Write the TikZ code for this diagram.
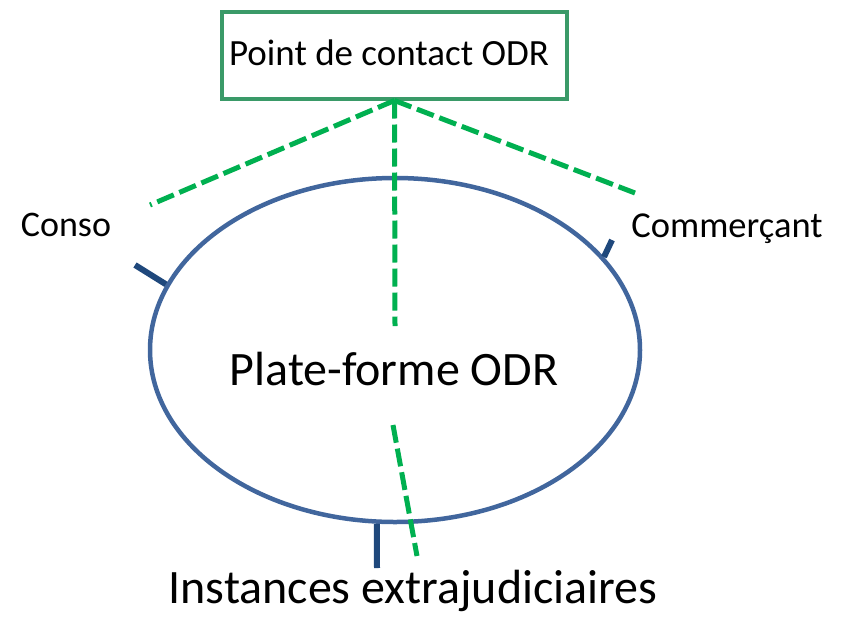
\documentclass[tikz,border=0pt]{standalone}
\usepackage{fontspec}
\setmainfont{Carlito}
\usetikzlibrary{shapes.geometric}
\definecolor{boxgreen}{HTML}{3A9A68}
\definecolor{dashgreen}{HTML}{00B050}
\definecolor{ellblue}{HTML}{41669D}
\definecolor{tickblue}{HTML}{1F487C}
\tikzset{
  lbl/.style={anchor=base, inner sep=0pt, text=black},
  gdash/.style={draw=dashgreen, line width=5pt, dash pattern=on 18pt off 6pt},
  tickline/.style={draw=tickblue, line width=6pt},
}
\begin{document}
\begin{tikzpicture}[x=1pt,y=-1pt]
\useasboundingbox (0,0) rectangle (843,616);
% box
\node[draw=boxgreen, line width=4pt, minimum width=345pt, minimum height=87pt, inner sep=0pt] (pc) at (394.5,55) {};
\node[lbl, font=\fontsize{37}{40}\selectfont] (pctext) at (389,65) {Point de contact ODR};
% ellipse
\node[draw=ellblue, line width=4.5pt, ellipse, minimum width=490pt, minimum height=344pt, inner sep=0pt] (plat) at (395,350) {};
\node[lbl, font=\fontsize{48}{52}\selectfont] (plattext) at (394,385) {Plate-forme ODR};
% labels
\node[lbl, font=\fontsize{36}{40}\selectfont] (conso) at (66,236) {Conso};
\node[lbl, font=\fontsize{36.5}{40}\selectfont] (comm) at (727,237) {Commerçant};
\node[lbl, font=\fontsize{48}{52}\selectfont] (inst) at (413,603) {Instances extrajudiciaires};
% free ends
\coordinate (gl) at (150,205);
\coordinate (gr) at (635,193);
\coordinate (gm) at (395,326);
\coordinate (gb1) at (393,425);
\coordinate (gb2) at (417,556);
\coordinate (tl) at (135,265);
\coordinate (tr) at (612,240);
\coordinate (tb) at (377,568);
% green dashed lines
\draw[gdash] (pc.south) -- (gl);
\draw[gdash] (pc.south) -- (gr);
\draw[gdash] (pc.south) -- (gm);
\draw[gdash] (gb1) -- (gb2);
% ticks
\draw[tickline] (plat.164.8) -- (tl);
\draw[tickline] (plat.24.5) -- (tr);
\draw[tickline] (plat.264) -- (tb);
\end{tikzpicture}
\end{document}
